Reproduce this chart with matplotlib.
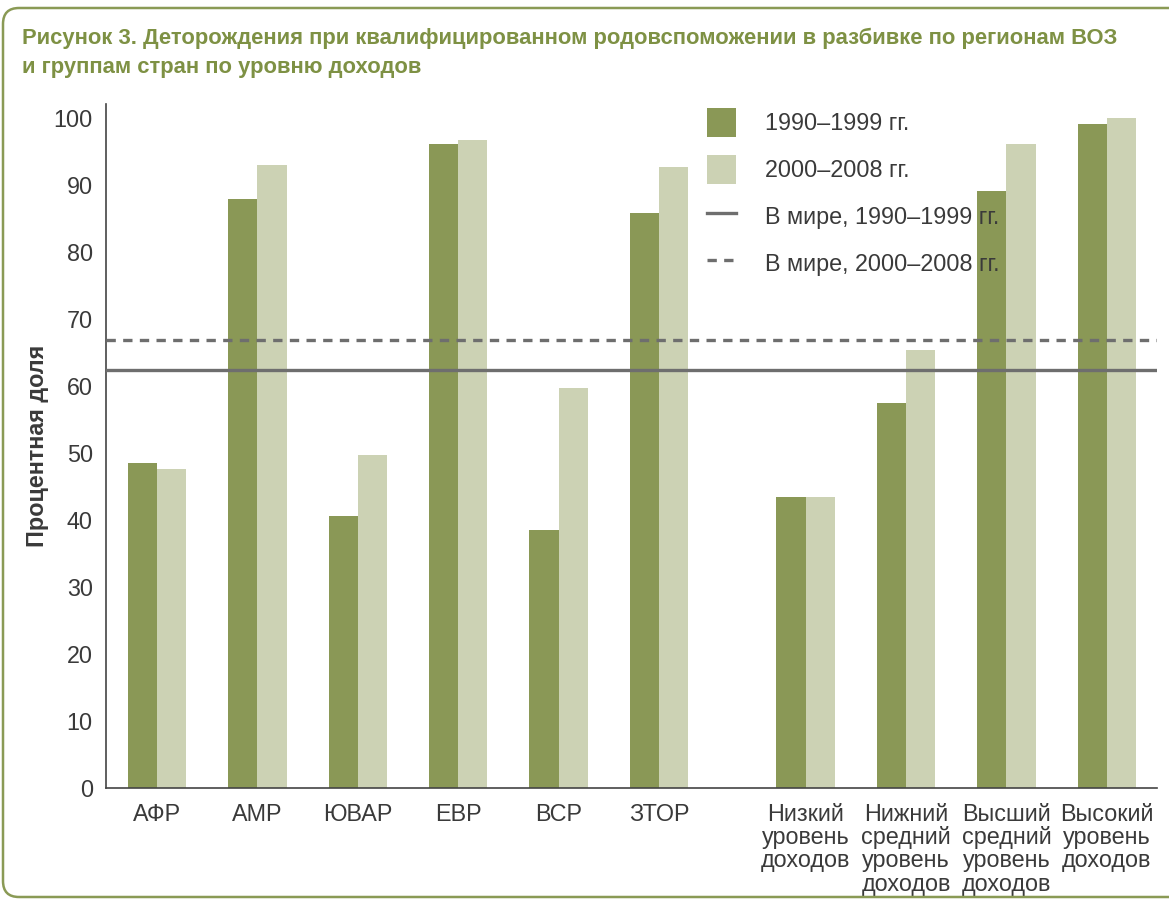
"""Skilled birth attendance by WHO region and income group (grouped bars)."""

import matplotlib
matplotlib.use("Agg")
import matplotlib.pyplot as plt
from matplotlib import font_manager
from matplotlib.patches import FancyBboxPatch, Patch
from matplotlib.lines import Line2D
import numpy as np

# ── data ─────────────────────────────────────────────────────────────────────

categories = [
    "АФР", "АМР", "ЮВАР", "ЕВР", "ВСР", "ЗТОР",
    "Низкий\nуровень\nдоходов",
    "Нижний\nсредний\nуровень\nдоходов",
    "Высший\nсредний\nуровень\nдоходов",
    "Высокий\nуровень\nдоходов",
]
values_1990s = [48.5, 87.8, 40.6, 96.0, 38.5, 85.8, 43.4, 57.5, 89.0, 99.0]
values_2000s = [47.6, 93.0, 49.7, 96.7, 59.6, 92.6, 43.4, 65.4, 96.0, 100.0]
world_1990s = 62.4
world_2000s = 66.8

series_labels = [
    "1990–1999 гг.",
    "2000–2008 гг.",
    "В мире, 1990–1999 гг.",
    "В мире, 2000–2008 гг.",
]
title = ("Рисунок 3. Деторождения при квалифицированном родовспоможении в разбивке по регионам ВОЗ\n"
         "и группам стран по уровню доходов")
ylabel = "Процентная доля"
yticks = [0, 10, 20, 30, 40, 50, 60, 70, 80, 90, 100]

# ── style ────────────────────────────────────────────────────────────────────

DARK = "#8a9856"
LIGHT = "#ccd2b4"
LINE = "#6e6e6e"
TEXT = "#3a3a3a"
OLIVE = "#7e9144"
FRAME = "#8a9a55"
DASH = (0, (2.8, 2.2))


def _pick_font(candidates):
    installed = {f.name for f in font_manager.fontManager.ttflist}
    return [c for c in candidates if c in installed] + ["DejaVu Sans"]


plt.rcParams["font.family"] = _pick_font(["Liberation Sans Narrow", "Liberation Sans"])
FS = 16.8

# group positions: regions, then a wider gap before income groups
x = np.array([0, 1, 2, 3, 4, 5, 6.46, 7.46, 8.46, 9.46])
w = 0.29

fig = plt.figure(figsize=(11.69, 8.99), dpi=100)
fig.patch.set_facecolor("white")

frame = FancyBboxPatch(
    (0.03, 0.02), 12.0, 8.99 - 0.10,
    boxstyle="round,pad=0,rounding_size=0.16",
    transform=fig.dpi_scale_trans, facecolor="none",
    edgecolor=FRAME, lw=1.8, clip_on=False,
)
fig.patches.append(frame)

title_txt = fig.text(22 / 1169, 1 - 28 / 899, title, ha="left", va="top", fontsize=FS,
                     fontweight="bold", color=OLIVE, linespacing=1.5)
# shrink the title so its first line fits the frame like the original
fig.canvas.draw()
tw = title_txt.get_window_extent().width
if tw > 1100:
    title_txt.set_fontsize(FS * 1100 / tw)

ax = fig.add_axes([106 / 1169, 1 - 788 / 899, (1157 - 106) / 1169, (788 - 103.6) / 899])

ax.bar(x - w / 2, values_1990s, width=w, color=DARK, zorder=2)
ax.bar(x + w / 2, values_2000s, width=w, color=LIGHT, zorder=2)
ax.axhline(world_1990s, color=LINE, lw=2.4, zorder=3)
ax.axhline(world_2000s, color=LINE, lw=2.4, ls=DASH, zorder=3)

ax.set_xlim(-0.508, 9.96)
ax.set_ylim(0, 102.1)
ax.set_yticks(yticks)
ax.set_xticks(x)
ax.set_xticklabels(categories, linespacing=1.02)
ax.tick_params(length=0, labelsize=FS, colors=TEXT)
ax.tick_params(axis="y", pad=9.5)
ax.tick_params(axis="x", pad=10.5)

for side in ("top", "right"):
    ax.spines[side].set_visible(False)
for side in ("left", "bottom"):
    ax.spines[side].set_color("#444444")
    ax.spines[side].set_linewidth(1.2)

ax.set_ylabel(ylabel, fontsize=FS, fontweight="bold", color=TEXT, labelpad=3)

handles = [
    Patch(facecolor=DARK, edgecolor="none"),
    Patch(facecolor=LIGHT, edgecolor="none"),
    Line2D([], [], color=LINE, lw=2.4),
    Line2D([], [], color=LINE, lw=2.4, ls=DASH),
]
fig.legend(
    handles, series_labels,
    loc="upper left", bbox_to_anchor=(707 / 1169, 1 - 108 / 899),
    frameon=False, fontsize=FS, labelcolor=TEXT,
    handlelength=1.25, handleheight=1.54, handletextpad=1.25,
    labelspacing=0.77, borderpad=0, borderaxespad=0,
)

fig.savefig("out.png", dpi=100, facecolor="white")
